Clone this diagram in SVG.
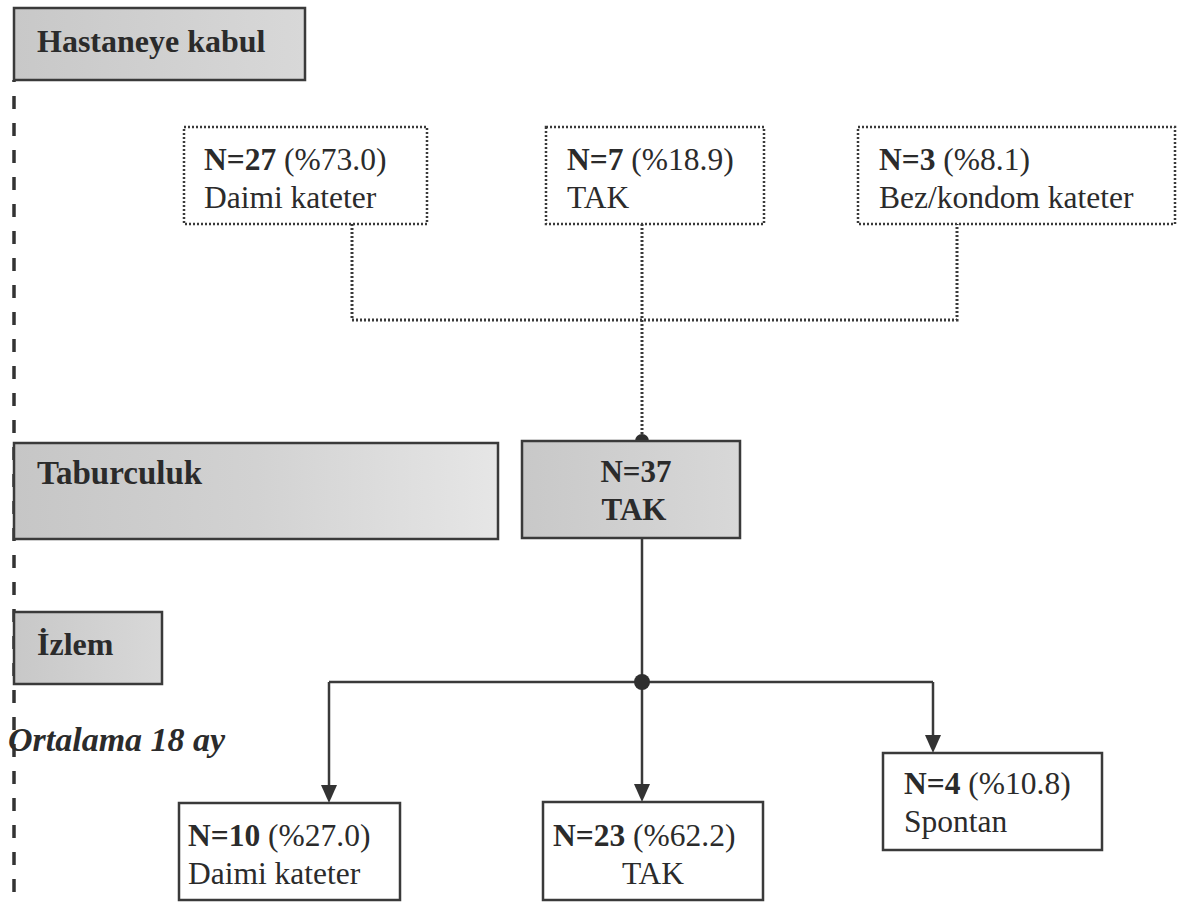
<svg xmlns="http://www.w3.org/2000/svg" width="1187" height="902" viewBox="0 0 1187 902">
<style>
.t{font-family:"Liberation Serif","Times New Roman",serif;fill:#2b2b2b;font-size:31.5px}
.b{font-weight:bold}
.h{font-family:"Liberation Serif","Times New Roman",serif;fill:#2b2b2b;font-size:32px;font-weight:bold}
.dot{fill:#fff;stroke:#3a3a3a;stroke-width:2.5;stroke-dasharray:2 2}
.box{fill:#fff;stroke:#3a3a3a;stroke-width:2.5}
.gbox{stroke:#3a3a3a;stroke-width:2.5}
.dl{fill:none;stroke:#3a3a3a;stroke-width:3;stroke-dasharray:2 2}
.sl{fill:none;stroke:#3a3a3a;stroke-width:2.5}
</style>
<defs>
<linearGradient id="g1" x1="0" y1="0" x2="1" y2="0">
<stop offset="0" stop-color="#c6c6c6"/><stop offset="0.5" stop-color="#d2d2d2"/><stop offset="1" stop-color="#e6e6e6"/>
</linearGradient>
<linearGradient id="g2" x1="0" y1="0" x2="1" y2="0">
<stop offset="0" stop-color="#c8c8c8"/><stop offset="1" stop-color="#d8d8d8"/>
</linearGradient>
</defs>
<rect width="1187" height="902" fill="#fff"/>
<line x1="14" y1="80" x2="14" y2="902" stroke="#333" stroke-width="3.5" stroke-dasharray="13 14" stroke-dashoffset="-16"/>
<g id="connectors">
<path class="dl" d="M352,224 V320 H957 V224"/>
<path class="dl" d="M642,224 V441"/>
<circle cx="642" cy="441" r="7" fill="#2e2e2e"/>
<path class="sl" d="M642,538 V682"/>
<path class="sl" d="M329,682 H933"/>
<path class="sl" d="M329,682 V786"/>
<path class="sl" d="M642,682 V785"/>
<path class="sl" d="M933,682 V736"/>
<path d="M321,785 L337,785 L329,803 Z" fill="#333"/>
<path d="M634,784 L650,784 L642,802 Z" fill="#333"/>
<path d="M925,735 L941,735 L933,753 Z" fill="#333"/>
<circle cx="642" cy="682" r="8" fill="#2e2e2e"/>
</g>
<g id="hastaneye">
<rect class="gbox" x="14" y="8" width="291" height="72" fill="url(#g2)"/>
<text class="h" x="37" y="52">Hastaneye kabul</text>
</g>
<g id="top1">
<rect class="dot" x="184" y="127" width="243" height="97"/>
<text class="t" x="204" y="170"><tspan class="b">N=27</tspan> (%73.0)</text>
<text class="t" x="204" y="208">Daimi kateter</text>
</g>
<g id="top2">
<rect class="dot" x="546" y="127" width="218" height="97"/>
<text class="t" x="567" y="170"><tspan class="b">N=7</tspan> (%18.9)</text>
<text class="t" x="567" y="208">TAK</text>
</g>
<g id="top3">
<rect class="dot" x="858" y="127" width="317" height="97"/>
<text class="t" x="879" y="170"><tspan class="b">N=3</tspan> (%8.1)</text>
<text class="t" x="879" y="208">Bez/kondom kateter</text>
</g>
<g id="taburculuk">
<rect class="gbox" x="14" y="443" width="484" height="96" fill="url(#g1)"/>
<text class="h" x="37" y="484" style="font-size:33px">Taburculuk</text>
</g>
<g id="n37">
<rect class="gbox" x="522" y="441" width="218" height="97" fill="url(#g2)"/>
<text class="t b" x="636" y="482" text-anchor="middle" style="font-size:31px">N=37</text>
<text class="t b" x="634" y="520" text-anchor="middle" style="font-size:31px">TAK</text>
</g>
<g id="izlem">
<rect class="gbox" x="14" y="612" width="148" height="72" fill="url(#g2)"/>
<text class="h" x="37" y="655">İzlem</text>
</g>
<g id="ortalama">
<text class="h" x="8" y="751" style="font-style:italic;font-size:34px">Ortalama 18 ay</text>
</g>
<g id="bot1">
<rect class="box" x="179" y="803" width="221" height="97"/>
<text class="t" x="188" y="846"><tspan class="b">N=10</tspan> (%27.0)</text>
<text class="t" x="188" y="884">Daimi kateter</text>
</g>
<g id="bot2">
<rect class="box" x="543" y="802" width="220" height="98"/>
<text class="t" x="553" y="846"><tspan class="b">N=23</tspan> (%62.2)</text>
<text class="t" x="653" y="884" text-anchor="middle">TAK</text>
</g>
<g id="bot3">
<rect class="box" x="883" y="753" width="219" height="97"/>
<text class="t" x="904" y="794"><tspan class="b">N=4</tspan> (%10.8)</text>
<text class="t" x="904" y="832">Spontan</text>
</g>
</svg>
